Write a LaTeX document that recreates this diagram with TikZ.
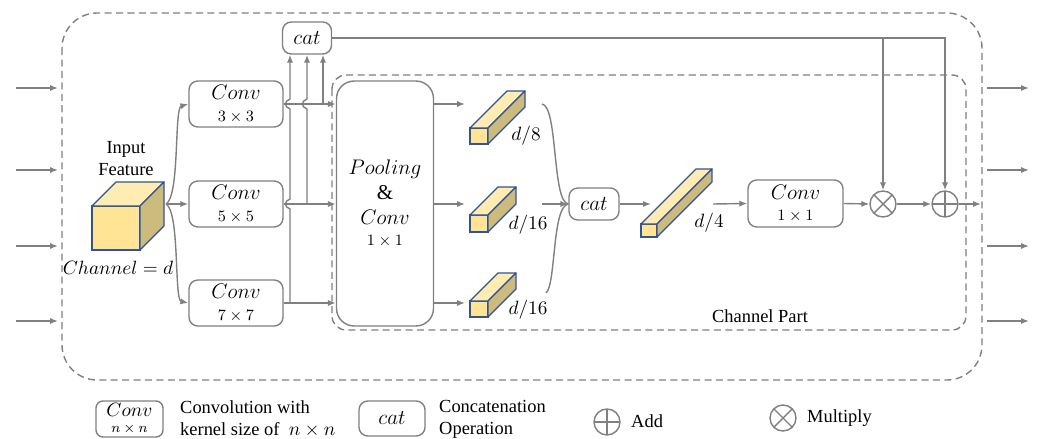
\documentclass[tikz,border=0pt]{standalone}
\usepackage{fontspec}
\setmainfont{Liberation Serif}
\usetikzlibrary{arrows.meta}
\definecolor{linegray}{RGB}{128,128,128}
\definecolor{cubefront}{RGB}{255,228,150}
\definecolor{cubetop}{RGB}{255,236,178}
\definecolor{cubeside}{RGB}{205,187,125}
\definecolor{cubeedge}{RGB}{50,85,145}
% feature block: x, y (front top-left), width, height, depth
\newcommand{\featblock}[5]{%
  \filldraw[draw=cubeedge, fill=cubefront, line width=0.7pt] (#1,#2) rectangle ++(#3,#4);
  \filldraw[draw=cubeedge, fill=cubetop, line width=0.7pt, line join=round] (#1,#2) -- ++(#5,-#5) -- ++(#3,0) -- ++(-#5,#5) -- cycle;
  \filldraw[draw=cubeedge, fill=cubeside, line width=0.7pt, line join=round] (#1+#3,#2) -- ++(#5,-#5) -- ++(0,#4) -- ++(-#5,#5) -- cycle;
}
\newcommand{\knl}[1]{{\fontsize{9pt}{11pt}\selectfont $#1$}}
\begin{document}
\begin{tikzpicture}[x=0.02cm, y=-0.02cm,
  every node/.style={font=\fontsize{12pt}{14pt}\selectfont},
  txt/.style={font=\fontsize{10.5pt}{12.5pt}\selectfont},
  line/.style={draw=linegray, line width=0.8pt},
  arr/.style={line, -{Latex[length=4.5pt, width=3.5pt]}},
  frame/.style={draw=linegray, line width=0.8pt, dash pattern=on 4pt off 2.5pt},
  convbox/.style={draw=linegray, line width=0.8pt, rounded corners=5pt, minimum width=1.88cm, minimum height=0.92cm, align=center, inner sep=0pt},
  catbox/.style={convbox, minimum width=0.98cm, minimum height=0.64cm},
  opcirc/.style={circle, draw=linegray, line width=0.8pt, minimum size=0.52cm, inner sep=0pt},
  addop/.style={opcirc, path picture={\draw[linegray, line width=0.8pt] (path picture bounding box.north) -- (path picture bounding box.south) (path picture bounding box.west) -- (path picture bounding box.east);}},
  mulop/.style={opcirc, path picture={\draw[linegray, line width=0.8pt] (path picture bounding box.north west) -- (path picture bounding box.south east) (path picture bounding box.south west) -- (path picture bounding box.north east);}},
  dlabel/.style={font=\fontsize{11pt}{13pt}\selectfont}
]
\useasboundingbox (0,0) rectangle (1038,439);

% frames
\draw[frame, rounded corners=20pt] (62,13) rectangle (982,380);
\draw[frame, rounded corners=8pt] (332,75) rectangle (966,330);
\node[txt] (chpart) at (760,316) {Channel Part};

% in / out arrows
\foreach \yy in {88,170,246,321} {
  \coordinate (inA\yy) at (16,\yy);
  \coordinate (inB\yy) at (58,\yy);
  \coordinate (outA\yy) at (987,\yy);
  \coordinate (outB\yy) at (1029,\yy);
  \draw[arr] (inA\yy) -- (inB\yy);
  \draw[arr] (outA\yy) -- (outB\yy);
}

% input feature
\node[txt, align=center] (infeat) at (126,159) {Input\\Feature};
\featblock{92}{206}{48}{44}{24}
\node[font=\fontsize{10.5pt}{12pt}\selectfont] (chan) at (118,268) {$Channel = d$};

% blocks
\node[convbox] (c3) at (236,104) {$Conv$\\[-2pt]\knl{3\times3}};
\node[convbox] (c5) at (236,204) {$Conv$\\[-2pt]\knl{5\times5}};
\node[convbox] (c7) at (236,303) {$Conv$\\[-2pt]\knl{7\times7}};
\node[catbox] (cattop) at (307,38) {$cat$};
\node[convbox, minimum width=1.94cm, minimum height=4.9cm, rounded corners=10pt] (pool) at (385,203.5)
  {$Pooling$\\\&\\$Conv$\\[-2pt]\knl{1\times1}};
\node[catbox, minimum width=1.0cm] (cat2) at (594,204) {$cat$};
\node[convbox, minimum width=1.9cm, minimum height=0.94cm] (c1) at (795.5,203.5) {$Conv$\\[-2pt]\knl{1\times1}};
\node[mulop] (mul) at (883,204) {};
\node[addop] (add) at (945,204) {};

% feature maps
\featblock{470}{128}{18}{16}{37}
\featblock{470}{215}{18}{17}{28}
\featblock{470}{301}{18}{16}{28}
\featblock{641}{224}{16}{13}{55}
\node[dlabel] (lb8) at (526,136) {$d/8$};
\node[dlabel] (lb16a) at (528,225) {$d/16$};
\node[dlabel] (lb16b) at (528,310) {$d/16$};
\node[dlabel] (lb4) at (709,223) {$d/4$};

% input to convs
\coordinate (src) at (166,204);
\draw[arr] (src) .. controls (180,196) and (174,108) .. (c3.west);
\draw[arr] (src) -- (c5.west);
\draw[arr] (src) .. controls (180,212) and (174,300) .. (c7.west);

% convs to pooling
\draw[arr] (c3.east) -- (pool.west |- c3.east);
\draw[arr] (c5.east) -- (pool.west |- c5.east);
\draw[arr] (c7.east) -- (pool.west |- c7.east);

% branches up to cat
\coordinate (j1) at (290,303);
\coordinate (j2) at (307,204);
\coordinate (j3) at (323,104);
\draw[arr] (j1) -- (290,209) .. controls (284,207) and (284,201) .. (290,199)
  -- (290,109) .. controls (284,107) and (284,101) .. (290,99) -- (cattop.south -| j1);
\draw[arr] (j2) -- (307,109) .. controls (301,107) and (301,101) .. (307,99) -- (cattop.south -| j2);
\draw[arr] (j3) -- (cattop.south -| j3);

% pooling to feature maps
\coordinate (p8) at (465,104);
\coordinate (p16a) at (465,204);
\coordinate (p16b) at (465,303);
\draw[arr] (pool.east |- p8) -- (p8);
\draw[arr] (pool.east |- p16a) -- (p16a);
\draw[arr] (pool.east |- p16b) -- (p16b);

% feature maps to cat
\coordinate (f8) at (542,104);
\coordinate (f16a) at (542,204);
\coordinate (f16b) at (546,293);
\draw[line] (f8) .. controls (558,106) and (552,202) .. (cat2.west);
\draw[arr] (f16a) -- (cat2.west);
\draw[line] (f16b) .. controls (556,285) and (552,206) .. (cat2.west);

% channel branch
\coordinate (f4in) at (651,204);
\coordinate (f4out) at (713,204);
\coordinate (outp) at (981,204);
\draw[arr] (cat2.east) -- (f4in);
\draw[arr] (f4out) -- (c1.west);
\draw[arr] (c1.east) -- (mul.west);
\draw[arr] (mul.east) -- (add.west);
\draw[arr] (add.east) -- (outp);
\draw[arr] (cattop.east) -- (cattop.east -| add) -- (add.north);
\draw[arr] (cattop.east -| mul) -- (mul.north);

% legend
\node[convbox, minimum width=1.34cm, minimum height=0.72cm, rounded corners=4pt, font=\fontsize{11pt}{12pt}\selectfont] (lgconv) at (129.5,419)
  {$Conv$\\[-3pt]{\fontsize{8pt}{9pt}\selectfont $n\times n$}};
\node[txt, anchor=west, align=left] (lgconvtxt) at (174,419) {Convolution with\\kernel size of~ $n\times n$};
\node[catbox, minimum width=1.32cm, minimum height=0.7cm] (lgcat) at (392,418.5) {$cat$};
\node[txt, anchor=west, align=left] (lgcattxt) at (433,419) {Concatenation\\Operation};
\node[addop] (lgadd) at (607,422) {};
\node[txt, anchor=west] (lgaddtxt) at (625,421) {Add};
\node[mulop] (lgmul) at (783,418) {};
\node[txt, anchor=west] (lgmultxt) at (801,418) {Multiply};
\end{tikzpicture}
\end{document}
